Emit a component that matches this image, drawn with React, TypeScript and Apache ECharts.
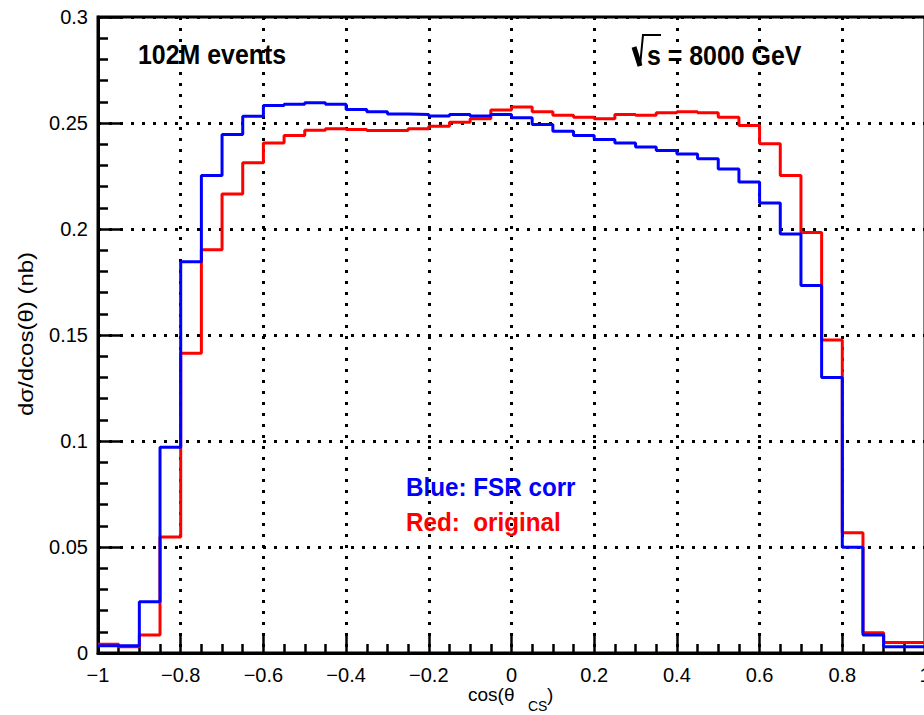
import React, { useEffect, useRef } from "react";
import * as echarts from "echarts";

// Histogram binning (40 bins from -1 to 1)
const X_MIN = -1;
const BIN_WIDTH = 0.05;

// Blue: FSR corrected
const blueValues = [
  0.0034, 0.0034, 0.0242, 0.097, 0.1846, 0.2252, 0.2446, 0.2532, 0.2583, 0.2588,
  0.2596, 0.2588, 0.2564, 0.2553, 0.2543, 0.254, 0.2533, 0.254, 0.2533, 0.254,
  0.2525, 0.2493, 0.2461, 0.2441, 0.2422, 0.2406, 0.2387, 0.237, 0.2354, 0.2331,
  0.2283, 0.2222, 0.2123, 0.1977, 0.1733, 0.1299, 0.0499, 0.0085, 0.003, 0.003,
];

// Red: original
const redValues = [
  0.0041, 0.003, 0.0085, 0.0547, 0.1414, 0.1902, 0.2165, 0.2312, 0.2406, 0.2441,
  0.2466, 0.2473, 0.2469, 0.2465, 0.2465, 0.2473, 0.2485, 0.2504, 0.252, 0.2561,
  0.2575, 0.2553, 0.2536, 0.2527, 0.252, 0.254, 0.2536, 0.2548, 0.2553, 0.2548,
  0.2527, 0.2488, 0.2402, 0.2252, 0.1984, 0.1476, 0.0567, 0.0096, 0.005, 0.005,
];

const FONT = '"Liberation Sans", Arial, Helvetica, sans-serif';

function toSteps(vals: number[]): number[][] {
  const pts = vals.map((v, i) => [Number((X_MIN + i * BIN_WIDTH).toFixed(4)), v]);
  pts.push([Number((X_MIN + vals.length * BIN_WIDTH).toFixed(4)), vals[vals.length - 1]]);
  return pts;
}

export default function App() {
  const ref = useRef<HTMLDivElement>(null);

  useEffect(() => {
    document.body.style.margin = "0";
    document.body.style.overflow = "hidden";
    if (!ref.current) return;
    const chart = echarts.init(ref.current, null, { renderer: "svg" });

    const dotted = { color: "#000", width: 3, type: [3, 8] as any };

    chart.setOption({
      animation: false,
      backgroundColor: "#fff",
      grid: {
        left: 98,
        top: 17,
        right: -1,
        bottom: 62,
        show: true,
        borderColor: "#000",
        borderWidth: 3,
        backgroundColor: "transparent",
        outerBoundsMode: "none",
        containLabel: false,
      },
      xAxis: {
        type: "value",
        min: -1,
        max: 1,
        interval: 0.2,
        axisLine: { show: true, onZero: false, lineStyle: { color: "#000", width: 3 } },
        axisTick: { show: true, inside: true, length: 18, lineStyle: { color: "#000", width: 2.5 } },
        minorTick: { show: true, splitNumber: 4, length: 9, lineStyle: { color: "#000", width: 2.5 } },
        axisLabel: {
          fontSize: 20,
          color: "#000",
          fontFamily: FONT,
          margin: 12,
          formatter: (v: number) => String(Number(v.toFixed(2))).replace("-", "\u2212"),
        },
        splitLine: { show: true, lineStyle: dotted },
        minorSplitLine: { show: false },
      },
      yAxis: {
        type: "value",
        min: 0,
        max: 0.3,
        interval: 0.05,
        axisLine: { show: true, onZero: false, lineStyle: { color: "#000", width: 3 } },
        axisTick: { show: true, inside: true, length: 23, lineStyle: { color: "#000", width: 2.5 } },
        minorTick: { show: true, splitNumber: 5, length: 10, lineStyle: { color: "#000", width: 2.5 } },
        axisLabel: {
          fontSize: 20,
          color: "#000",
          fontFamily: FONT,
          margin: 10,
          formatter: (v: number) => String(Number(v.toFixed(2))),
        },
        splitLine: { show: true, lineStyle: dotted },
        minorSplitLine: { show: false },
      },
      series: [
        {
          name: "Red: original",
          type: "line",
          step: "end",
          symbol: "none",
          data: toSteps(redValues),
          lineStyle: { color: "#ff0000", width: 3 },
          z: 3,
        },
        {
          name: "Blue: FSR corr",
          type: "line",
          step: "end",
          symbol: "none",
          data: toSteps(blueValues),
          lineStyle: { color: "#0000ff", width: 3 },
          z: 4,
        },
      ],
      graphic: [
        {
          type: "text",
          x: 138,
          y: 54,
          scaleX: 0.89,
          z: 10,
          style: {
            text: "102M events",
            fontSize: 28,
            fontWeight: "bold",
            fontFamily: FONT,
            fill: "#000",
            align: "left",
            verticalAlign: "middle",
          },
        },
        {
          type: "line",
          z: 10,
          shape: { x1: 634, y1: 47, x2: 640, y2: 66 },
          style: { stroke: "#000", lineWidth: 5 },
        },
        {
          type: "polyline",
          z: 10,
          shape: { points: [[640, 66], [643, 35], [661, 35]] },
          style: { stroke: "#000", lineWidth: 2, fill: null },
        },
        {
          type: "text",
          x: 647,
          y: 55,
          scaleX: 0.89,
          z: 10,
          style: {
            text: "s = 8000 GeV",
            fontSize: 28,
            fontWeight: "bold",
            fontFamily: FONT,
            fill: "#000",
            align: "left",
            verticalAlign: "middle",
          },
        },
        {
          type: "text",
          x: 406,
          y: 487,
          scaleX: 0.95,
          z: 10,
          style: {
            text: "Blue: FSR corr",
            fontSize: 25.5,
            fontWeight: "bold",
            fontFamily: FONT,
            fill: "#0000ff",
            align: "left",
            verticalAlign: "middle",
          },
        },
        {
          type: "text",
          x: 406,
          y: 522,
          scaleX: 0.95,
          z: 10,
          style: {
            text: "Red:  original",
            fontSize: 25.5,
            fontWeight: "bold",
            fontFamily: FONT,
            fill: "#ff0000",
            align: "left",
            verticalAlign: "middle",
          },
        },
        {
          type: "text",
          x: 26,
          y: 334,
          rotation: Math.PI / 2,
          scaleX: 1.2,
          z: 10,
          style: {
            text: "d\u03c3/dcos(\u03b8) (nb)",
            fontSize: 20,
            fontFamily: FONT,
            fill: "#000",
            align: "center",
            verticalAlign: "middle",
          },
        },
        {
          type: "text",
          x: 468,
          y: 694,
          z: 10,
          style: {
            text: "cos(\u03b8",
            fontSize: 19,
            fontFamily: FONT,
            fill: "#000",
            align: "left",
            verticalAlign: "middle",
          },
        },
        {
          type: "text",
          x: 528,
          y: 706,
          z: 10,
          style: {
            text: "CS",
            fontSize: 14,
            fontFamily: FONT,
            fill: "#000",
            align: "left",
            verticalAlign: "middle",
          },
        },
        {
          type: "text",
          x: 547,
          y: 694,
          z: 10,
          style: {
            text: ")",
            fontSize: 19,
            fontFamily: FONT,
            fill: "#000",
            align: "left",
            verticalAlign: "middle",
          },
        },
      ],
    });

    return () => {
      chart.dispose();
    };
  }, []);

  return <div ref={ref} style={{ width: 924, height: 715 }} />;
}
